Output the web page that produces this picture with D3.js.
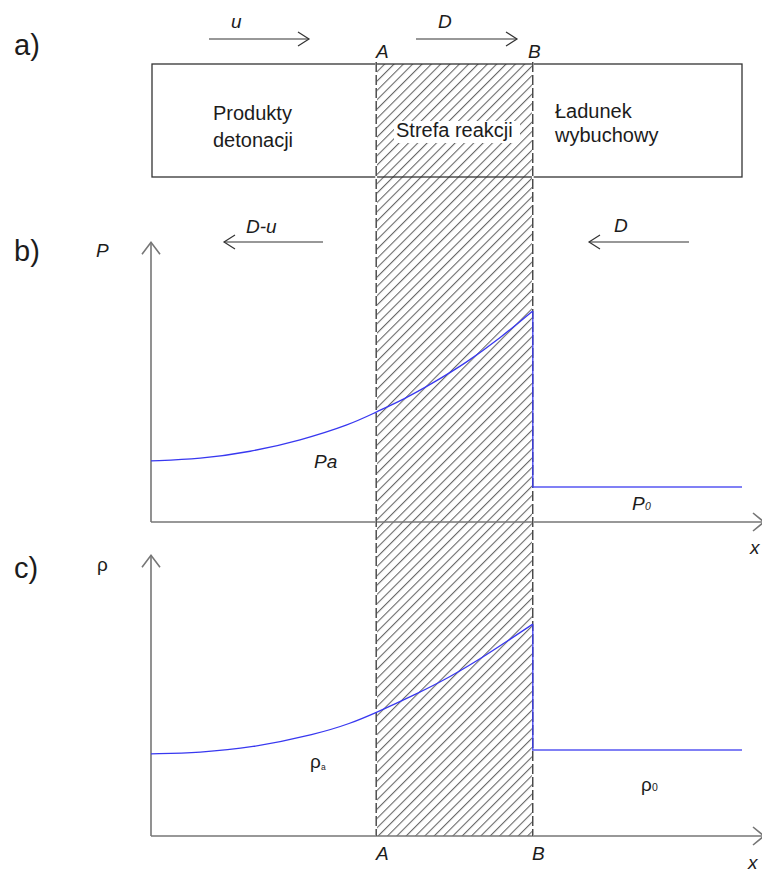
<!DOCTYPE html>
<html lang="pl">
<head>
<meta charset="UTF-8">
<title>Strefa reakcji - profil detonacji</title>
<script src="https://d3js.org/d3.v7.min.js"></script>
<style>
    html, body { margin: 0; padding: 0; background: #fff; }
    svg { display: block; font-family: "Liberation Sans", Arial, sans-serif; }
    .ink { fill: #1c1c1c; }
</style>
</head>
<body>
<div id="vis"></div>
<script>
// ---- data (x in arbitrary units: 0 = y-axis, A and B = reaction zone) ----
var zoneA = 38.1, zoneB = 64.6, xEnd = 100;

// pressure profile, panel b
var pX      = [0, 8.3, 16.8, 25.2, 33.7, 38.1, 42.6, 47.7, 53.5, 59.1, 64.6];
var pValues = [21.8, 22.5, 25.0, 29.1, 34.8, 39.3, 43.6, 49.6, 57.1, 65.7, 75.4];
var p0 = 12.5;

// density profile, panel c
var rhoX      = [0, 8.3, 16.8, 28.1, 33.7, 38.1, 45.0, 50.6, 56.2, 64.6];
var rhoValues = [29.2, 29.7, 31.3, 36.3, 40.0, 43.9, 50.6, 56.6, 63.6, 75.4];
var rho0 = 30.6;

// ---- layout ----
var W = 762, H = 873;
var svg = d3.select('#vis').append('svg')
    .attr('width', W).attr('height', H);

var x = d3.scaleLinear().domain([0, 100]).range([151, 742]);
var yP = d3.scaleLinear().domain([0, 100]).range([522, 242]);
var yR = d3.scaleLinear().domain([0, 100]).range([836, 555]);

var boxTop = 64, boxBottom = 177;
var axisEnd = x.invert(764);

var blue = '#3838f0', axisGrey = '#767676', dark = '#333';

// hatch pattern
var defs = svg.append('defs');
defs.append('pattern')
    .attr('id', 'hatch')
    .attr('patternUnits', 'userSpaceOnUse')
    .attr('width', 6.6).attr('height', 10)
    .attr('patternTransform', 'rotate(45)')
  .append('line')
    .attr('x1', 0.6).attr('y1', -1).attr('x2', 0.6).attr('y2', 11)
    .attr('stroke', '#2a2a2a').attr('stroke-width', 0.8);

svg.append('rect')
    .attr('x', x(zoneA)).attr('y', boxTop)
    .attr('width', x(zoneB) - x(zoneA))
    .attr('height', yR(0) - boxTop)
    .attr('fill', 'url(#hatch)');

// box (a)
svg.append('rect')
    .attr('x', x(0) + 1).attr('y', boxTop)
    .attr('width', x(xEnd) - x(0) - 1).attr('height', boxBottom - boxTop)
    .attr('fill', 'none').attr('stroke', dark).attr('stroke-width', 1.3);

// white label background in the reaction zone
svg.append('rect')
    .attr('x', 394).attr('y', 121).attr('width', 126).attr('height', 22)
    .attr('fill', '#fff');

// axes
function axis(yScale) {
    var y0 = yScale(0), yTop = yScale(100) + 0.3;
    var g = svg.append('g')
        .attr('fill', 'none').attr('stroke', axisGrey).attr('stroke-width', 1.6);
    g.append('path').attr('d', 'M' + x(0) + ',' + y0 + 'V' + yTop);
    g.append('path').attr('d', 'M' + (x(0) - 9) + ',' + (yTop + 12) + 'L' + x(0) + ',' + yTop + 'L' + (x(0) + 9) + ',' + (yTop + 12));
    g.append('path').attr('d', 'M' + x(0) + ',' + y0 + 'H' + x(axisEnd));
    g.append('path').attr('d', 'M' + (x(axisEnd) - 11) + ',' + (y0 - 9) + 'L' + x(axisEnd) + ',' + y0 + 'L' + (x(axisEnd) - 11) + ',' + (y0 + 9));
}
axis(yP);
axis(yR);

// dashed zone boundaries
[zoneA, zoneB].forEach(function(v) {
    svg.append('line')
        .attr('x1', x(v)).attr('x2', x(v)).attr('y1', boxTop - 2).attr('y2', yR(0))
        .attr('stroke', '#fff').attr('stroke-width', 1.8);
    svg.append('line')
        .attr('x1', x(v)).attr('x2', x(v)).attr('y1', boxTop - 2).attr('y2', yR(0))
        .attr('stroke', '#222').attr('stroke-width', 1.2)
        .attr('stroke-dasharray', '10,3');
});

// profiles
function profile(xs, vs, after, yScale) {
    var pts = xs.map(function(d, i) { return [d, vs[i]]; });
    var line = d3.line()
        .x(function(d) { return x(d[0]); })
        .y(function(d) { return yScale(d[1]); })
        .curve(d3.curveBasis);
    var smooth = [pts[0]].concat(pts, [pts[pts.length - 1]]);
    svg.append('path')
        .attr('d', line(smooth))
        .attr('fill', 'none').attr('stroke', blue).attr('stroke-width', 1.3);
    var step = d3.line()
        .x(function(d) { return x(d[0]); })
        .y(function(d) { return yScale(d[1]); });
    svg.append('path')
        .attr('d', step([pts[pts.length - 1], [zoneB, after], [xEnd, after]]))
        .attr('fill', 'none').attr('stroke', blue).attr('stroke-width', 1.5)
        .attr('stroke-opacity', 0.85);
}
profile(pX, pValues, p0, yP);
profile(rhoX, rhoValues, rho0, yR);

// arrows
function arrow(x1, x2, yy) {
    var dir = x2 > x1 ? 1 : -1;
    var g = svg.append('g').attr('fill', 'none').attr('stroke', dark).attr('stroke-width', 1.2);
    g.append('path').attr('d', 'M' + x1 + ',' + yy + 'H' + x2);
    g.append('path').attr('d', 'M' + (x2 - dir * 11) + ',' + (yy - 7) + 'L' + x2 + ',' + yy + 'L' + (x2 - dir * 11) + ',' + (yy + 7));
}
arrow(209, 309, 39);
arrow(416, 517, 39);
arrow(323, 224, 242);
arrow(689, 589, 242);

// text
function txt(s, tx, ty, size, italic) {
    return svg.append('text')
        .attr('class', 'ink')
        .attr('x', tx).attr('y', ty)
        .attr('font-size', size)
        .attr('font-style', italic ? 'italic' : 'normal')
        .text(s);
}
txt('a)', 14, 55, 29);
txt('b)', 14, 261, 29);
txt('c)', 14, 578, 29);

txt('u', 231, 28, 19, true);
txt('D', 438, 28, 19, true);
txt('A', 376, 58, 19, true);
txt('B', 528, 58, 19, true);

txt('Produkty', 213, 120, 20);
txt('detonacji', 213, 147, 20);
txt('Strefa reakcji', 396, 137, 20);
txt('Ładunek', 555, 118, 20);
txt('wybuchowy', 555, 142, 20);

txt('D-u', 246, 233, 19, true);
txt('D', 614, 232, 19, true);
txt('P', 96, 257, 19, true);
txt('Pa', 314, 468, 19, true);
txt('P', 632, 510, 19, true);
txt('0', 645, 510, 10.5, true);
txt('x', 750, 554, 19, true);

txt('ρ', 97, 571, 19);
txt('ρ', 310, 768, 19);
txt('a', 321, 770, 8.5);
txt('ρ', 641, 791, 19);
txt('0', 652, 791, 10.5);

txt('A', 376, 860, 19, true);
txt('B', 532, 860, 19, true);
txt('x', 748, 869, 19, true);
</script>
</body>
</html>
